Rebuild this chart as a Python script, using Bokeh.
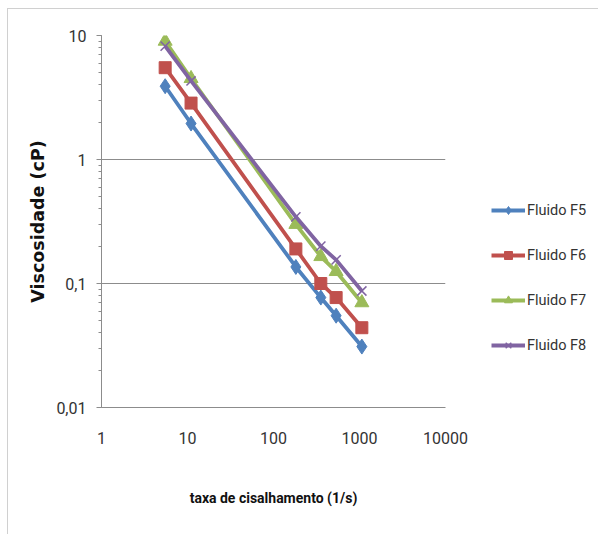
from bokeh.plotting import figure
from bokeh.models import Legend, LegendItem, CustomJSTickFormatter, LogTicker
from bokeh.embed import file_html
from bokeh.resources import INLINE

# data
shear_rate = [5.5, 11, 182, 355, 535, 1065]
fluido_f5 = [3.9, 1.95, 0.136, 0.077, 0.055, 0.031]
fluido_f6 = [5.5, 2.85, 0.19, 0.10, 0.077, 0.044]
fluido_f7 = [9.0, 4.5, 0.30, 0.165, 0.125, 0.070]
fluido_f8 = [8.2, 4.3, 0.345, 0.20, 0.155, 0.087]
series_names = ["Fluido F5", "Fluido F6", "Fluido F7", "Fluido F8"]

colors = ["#4F81BD", "#C0504D", "#9BBB59", "#8064A2"]
TICKFONT = "Roboto"

p = figure(x_axis_type="log", y_axis_type="log",
           x_range=(1, 10000), y_range=(0.01, 10),
           frame_width=344, frame_height=372,
           min_border_left=93, min_border_right=150,
           min_border_top=26, min_border_bottom=127,
           output_backend="svg", toolbar_location=None,
           background_fill_color="white", border_fill_color="white")
p.styles = {"margin-left": "7px", "margin-top": "8px",
            "border-top": "1px solid #d0d0d0", "border-left": "1px solid #d0d0d0"}
p.outline_line_color = None

p.xgrid.grid_line_color = None
p.ygrid.grid_line_color = "#8c8c8c"
p.ygrid.grid_line_width = 1

# axes
p.xaxis.ticker = LogTicker(num_minor_ticks=0)
p.xaxis.formatter = CustomJSTickFormatter(code="return Math.round(tick).toString();")
p.yaxis.ticker = LogTicker(num_minor_ticks=10)
p.yaxis.formatter = CustomJSTickFormatter(code="return tick.toString().replace('.', ',');")

for ax in (p.xaxis[0], p.yaxis[0]):
    ax.axis_line_color = "#8c8c8c"
    ax.major_tick_line_color = "#8c8c8c"
    ax.minor_tick_line_color = "#8c8c8c"
    ax.major_label_text_font = TICKFONT
    ax.major_label_text_font_size = "16px"
    ax.major_label_text_color = "#333333"
    ax.axis_label_text_font_style = "bold"
    ax.axis_label_text_color = "#111111"

p.xaxis.major_tick_out = 0
p.xaxis.major_tick_in = 0
p.xaxis.minor_tick_out = 0
p.xaxis.minor_tick_in = 0
p.xaxis.major_label_standoff = 24
p.xaxis.axis_label = "taxa de cisalhamento (1/s)"
p.xaxis.axis_label_text_font = "Roboto"
p.xaxis.axis_label_text_font_size = "14px"
p.xaxis.axis_label_standoff = 43

p.yaxis.major_tick_out = 5
p.yaxis.major_tick_in = 0
p.yaxis.minor_tick_out = 3
p.yaxis.minor_tick_in = 0
p.yaxis.major_label_standoff = 10
p.yaxis.axis_label = "Viscosidade (cP)"
p.yaxis.axis_label_text_font = "DejaVu Sans"
p.yaxis.axis_label_text_font_size = "17.5px"
p.yaxis.axis_label_standoff = 5

items = []
data = [fluido_f5, fluido_f6, fluido_f7, fluido_f8]
for name, ys, c, i in zip(series_names, data, colors, range(4)):
    ln = p.line(shear_rate, ys, line_color=c, line_width=3.8)
    if i == 0:
        mk = p.scatter(shear_rate, ys, marker="diamond", size=15, fill_color=c, line_color=c)
    elif i == 1:
        mk = p.scatter(shear_rate, ys, marker="square", size=12, fill_color=c, line_color=c)
    elif i == 2:
        mk = p.scatter(shear_rate, ys, marker="triangle", size=14, fill_color=c, line_color=c)
    else:
        mk = p.scatter(shear_rate, ys, marker="x", size=13, line_color=c, line_width=1.5)
    items.append(LegendItem(label=name, renderers=[ln, mk]))

legend = Legend(items=items, location=(46, 52), orientation="vertical",
                border_line_color=None, background_fill_alpha=0,
                padding=0, margin=0, spacing=25,
                glyph_width=34, glyph_height=20, label_height=20,
                label_standoff=2, label_text_font=TICKFONT,
                label_text_font_size="14.5px", label_text_color="#333333")
p.add_layout(legend, "right")

open("out.html", "w").write(file_html(p, INLINE))
